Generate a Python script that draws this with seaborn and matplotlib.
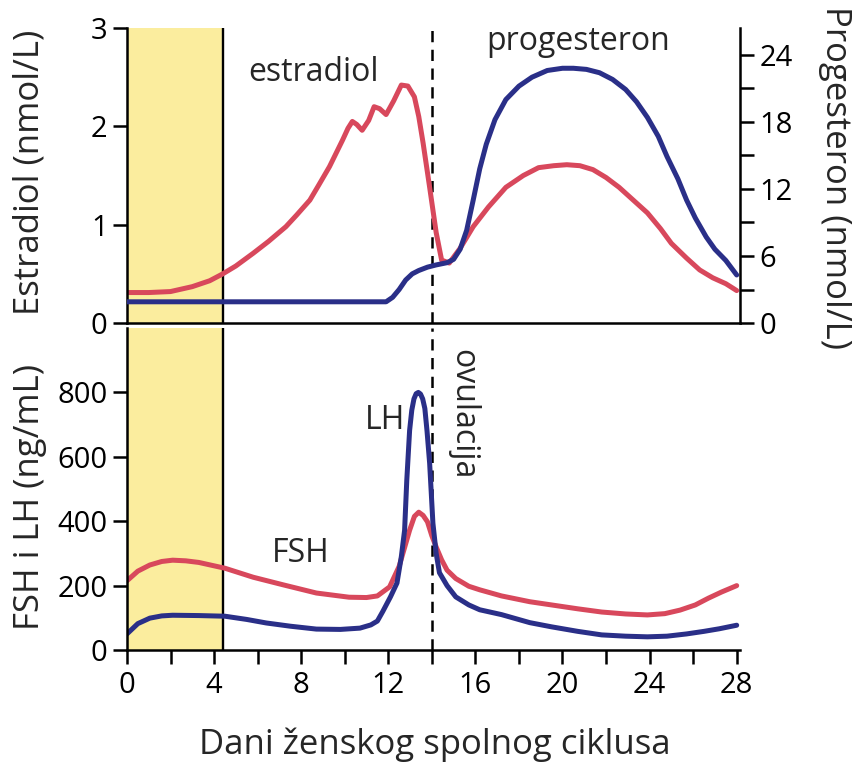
import matplotlib
matplotlib.use("Agg")
import matplotlib.pyplot as plt
import matplotlib.ticker as mticker
import seaborn as sns
import pandas as pd

# ── Podaci (očitano sa slike) ─────────────────────────────────────────────────
e2_day = [0, 1, 2, 3, 3.8, 4.4, 5.0, 5.8, 6.5, 7.3, 7.8, 8.4, 8.8, 9.3, 9.9, 10.15,
          10.35, 10.55, 10.8, 11.1, 11.35, 11.6, 11.9, 12.25, 12.6, 12.9, 13.2, 13.4,
          13.6, 13.9, 14.2, 14.45, 14.8, 15.3, 15.9, 16.6, 17.4, 18.2, 18.9, 19.6,
          20.2, 20.8, 21.4, 22.0, 22.6, 23.2, 23.9, 24.5, 25.0, 25.7, 26.3, 26.9,
          27.5, 28.0]
e2_val = [0.31, 0.31, 0.32, 0.37, 0.43, 0.50, 0.58, 0.71, 0.83, 0.98, 1.10, 1.25,
          1.40, 1.59, 1.86, 1.98, 2.05, 2.02, 1.96, 2.06, 2.20, 2.18, 2.12, 2.26,
          2.42, 2.41, 2.30, 2.10, 1.83, 1.38, 0.92, 0.64, 0.61, 0.76, 0.98, 1.18,
          1.38, 1.50, 1.58, 1.60, 1.61, 1.60, 1.56, 1.48, 1.38, 1.26, 1.12, 0.96,
          0.81, 0.66, 0.54, 0.46, 0.40, 0.33]

p4_day = [0, 4, 8, 11.9, 12.2, 12.5, 12.8, 13.1, 13.4, 13.8, 14.2, 14.7, 15.0, 15.3,
          15.6, 15.9, 16.2, 16.5, 16.9, 17.4, 18.0, 18.6, 19.3, 20.0, 20.5, 21.1,
          21.7, 22.3, 22.9, 23.4, 23.9, 24.4, 24.8, 25.3, 25.7, 26.1, 26.6, 27.0,
          27.5, 28.0]
p4_val = [1.9, 1.9, 1.9, 1.9, 2.3, 3.0, 3.85, 4.4, 4.7, 5.0, 5.2, 5.4, 5.7, 6.6,
          8.3, 11.0, 13.8, 16.0, 18.2, 20.0, 21.2, 22.0, 22.6, 22.8, 22.8, 22.7,
          22.4, 21.8, 20.9, 19.8, 18.4, 16.7, 14.9, 12.9, 11.0, 9.4, 7.7, 6.6, 5.6,
          4.3]

fsh_day = [0, 0.5, 1.05, 1.6, 2.1, 2.7, 3.3, 4.5, 5.8, 7.2, 8.7, 10.2, 11.0, 11.5,
           12.06, 12.5, 12.98, 13.2, 13.4, 13.6, 13.8, 14.0, 14.2, 14.45, 14.7, 15.1,
           15.7, 16.2, 17.2, 18.5, 19.5, 20.7, 21.8, 22.9, 23.9, 24.7, 25.4, 26.1,
           26.7, 27.3, 28.0]
fsh_val = [215, 245, 264, 275, 279, 277, 272, 254, 226, 202, 177, 164, 163, 168,
           196, 260, 372, 415, 428, 418, 398, 355, 320, 280, 248, 222, 198, 187,
           168, 150, 140, 128, 118, 112, 109, 113, 124, 140, 161, 180, 200]

lh_day = [0, 0.5, 1.05, 1.6, 2.1, 3.3, 4.5, 5.5, 6.4, 7.5, 8.7, 9.8, 10.7, 11.2,
          11.5, 11.75, 12.1, 12.4, 12.6, 12.75, 12.85, 12.98, 13.08, 13.18, 13.28,
          13.38, 13.48, 13.58, 13.68, 13.78, 13.9, 14.05, 14.2, 14.35, 14.7, 15.1,
          15.7, 16.2, 17.2, 18.5, 19.5, 20.7, 21.8, 22.9, 23.9, 24.8, 25.7, 26.5,
          27.2, 28.0]
lh_val = [50, 82, 99, 106, 108, 107, 105, 95, 84, 74, 65, 64, 68, 78, 90, 120, 165,
          208, 290, 372, 527, 682, 745, 780, 796, 800, 795, 780, 750, 680, 580, 394,
          300, 240, 200, 165, 140, 125, 110, 85, 72, 58, 47, 43, 41, 43, 50, 58, 66,
          77]

x_major = [0, 4, 8, 12, 16, 20, 24, 28]
x_minor = [2, 6, 10, 14, 18, 22, 26]
e2_ticks = [0, 1, 2, 3]
p4_major = [0, 6, 12, 18, 24]
p4_minor = [3, 9, 15, 21]
gn_ticks = [0, 200, 400, 600, 800]

menstruacija = (0, 4.4)
ovulacija = 14

# ── Stil ──────────────────────────────────────────────────────────────────────
sns.set_theme(style="ticks")
plt.rcParams["font.family"] = ["Open Sans", "DejaVu Sans"]
plt.rcParams.update({
    "axes.linewidth": 1.8,
    "xtick.major.width": 1.8, "xtick.minor.width": 1.8,
    "ytick.major.width": 1.8, "ytick.minor.width": 1.8,
    "xtick.major.size": 10, "xtick.minor.size": 10,
    "ytick.major.size": 10, "ytick.minor.size": 10,
    "xtick.color": "black", "ytick.color": "black",
    "axes.edgecolor": "black",
})

RED = "#d8485c"
BLUE = "#2a2f88"
YELLOW = "#fbed9e"
LW = 3.6
FS_TICK = 21
FS_ANN = 23
FS_LAB = 25

fig = plt.figure(figsize=(8.52, 7.66), dpi=100)
ax_top = fig.add_axes([0.149, 0.5783, 0.7195, 0.3851])
ax_bot = fig.add_axes([0.149, 0.1514, 0.7195, 0.4204])
ax_p4 = ax_top.twinx()

e2 = pd.DataFrame({"dan": e2_day, "v": e2_val})
p4 = pd.DataFrame({"dan": p4_day, "v": p4_val})
fsh = pd.DataFrame({"dan": fsh_day, "v": fsh_val})
lh = pd.DataFrame({"dan": lh_day, "v": lh_val})

line_kw = dict(lw=LW, estimator=None, sort=False,
               solid_joinstyle="round", solid_capstyle="round")

# ── Gornji panel: estradiol + progesteron ─────────────────────────────────────
for ax in (ax_top, ax_bot):
    ax.axvspan(*menstruacija, color=YELLOW, lw=0, zorder=0)
    ax.axvline(menstruacija[1], color="black", lw=1.7, zorder=1)
    ax.axvline(ovulacija, color="black", lw=1.8, ls=(0, (4.5, 3)), zorder=1)
    ax.set_xlim(0, 28.15)

sns.lineplot(data=e2, x="dan", y="v", ax=ax_top, color=RED, **line_kw)
sns.lineplot(data=p4, x="dan", y="v", ax=ax_p4, color=BLUE, **line_kw)

ax_top.set_ylim(0, 3)
ax_top.set_yticks(e2_ticks)
ax_top.set_xticks([])
ax_top.set_xlabel("")
ax_top.set_ylabel("")
ax_top.tick_params(axis="y", labelsize=FS_TICK, pad=4)
for s in ("top", "right"):
    ax_top.spines[s].set_visible(False)

ax_p4.set_ylim(0, 26.4)
ax_p4.set_yticks(p4_major)
ax_p4.yaxis.set_minor_locator(mticker.FixedLocator(p4_minor))
ax_p4.set_ylabel("")
ax_p4.tick_params(axis="y", which="both", labelsize=FS_TICK, pad=4)
for s in ("top", "left", "bottom"):
    ax_p4.spines[s].set_visible(False)

ax_top.text(5.55, 2.55, "estradiol", fontsize=FS_ANN, va="center", ha="left")
ax_top.text(16.5, 2.86, "progesteron", fontsize=FS_ANN, va="center", ha="left")

# ── Donji panel: FSH + LH ─────────────────────────────────────────────────────
sns.lineplot(data=fsh, x="dan", y="v", ax=ax_bot, color=RED, **line_kw)
sns.lineplot(data=lh, x="dan", y="v", ax=ax_bot, color=BLUE, **line_kw)

ax_bot.set_ylim(0, 1000)
ax_bot.set_yticks(gn_ticks)
ax_bot.set_xticks(x_major)
ax_bot.xaxis.set_minor_locator(mticker.FixedLocator(x_minor))
ax_bot.tick_params(axis="both", which="both", labelsize=FS_TICK, pad=4)
ax_bot.tick_params(axis="x", pad=5)
ax_bot.set_xlabel("")
ax_bot.set_ylabel("")
for s in ("top", "right"):
    ax_bot.spines[s].set_visible(False)

ax_bot.text(6.65, 300, "FSH", fontsize=FS_ANN, va="center", ha="left")
ax_bot.text(12.8, 713, "LH", fontsize=FS_ANN, va="center", ha="right")
ax_bot.text(15.41, 935, "ovulacija", fontsize=FS_ANN, va="top", ha="center",
            rotation=270)

# ── Oznake osi ────────────────────────────────────────────────────────────────
fig.text(30 / 852, 1 - 172 / 766, "Estradiol (nmol/L)", fontsize=FS_LAB,
         rotation=90, ha="center", va="center")
fig.text(30 / 852, 1 - 497 / 766, "FSH i LH (ng/mL)", fontsize=FS_LAB,
         rotation=90, ha="center", va="center")
fig.text(835 / 852, 1 - 178 / 766, "Progesteron (nmol/L)", fontsize=FS_LAB,
         rotation=270, ha="center", va="center")
fig.text(435 / 852, 1 - 745 / 766, "Dani ženskog spolnog ciklusa", fontsize=FS_LAB,
         ha="center", va="center")

fig.savefig("out.png", dpi=100)
